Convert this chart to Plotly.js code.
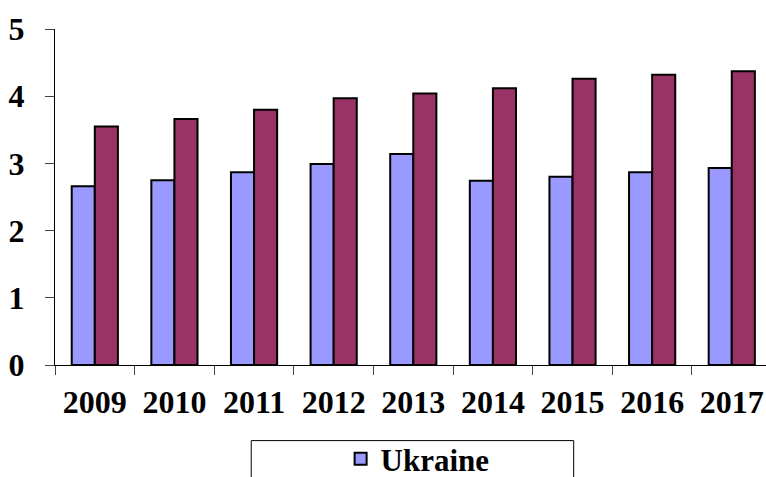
<!DOCTYPE html>
<html>
<head>
<meta charset="utf-8">
<script src="https://cdn.plot.ly/plotly-3.0.1.min.js"></script>
<style>
  html, body { margin: 0; padding: 0; background: #fff; }
  #plot { width: 766px; height: 477px; }
</style>
</head>
<body>
<div id="plot"></div>
<script>
// years on the x axis
const years = ["2009", "2010", "2011", "2012", "2013", "2014", "2015", "2016", "2017"];

// values
const ukraine = [2.66, 2.75, 2.87, 2.99, 3.14, 2.74, 2.80, 2.87, 2.93];
const second = [3.55, 3.66, 3.80, 3.97, 4.04, 4.12, 4.26, 4.32, 4.37];

const font = { family: "'Liberation Serif', 'Times New Roman', serif", size: 32, color: "#000", weight: "bold" };

let trace1 = {
  x: years,
  y: ukraine,
  name: "Ukraine",
  type: "bar",
  marker: { color: "#9999FF", line: { color: "#000", width: 2 } }
};

let trace2 = {
  x: years,
  y: second,
  name: "Series 2",
  type: "bar",
  showlegend: false,
  marker: { color: "#993366", line: { color: "#000", width: 2 } }
};

let layout = {
  width: 766,
  height: 477,
  margin: { l: 55, r: 0, t: 29, b: 112, autoexpand: false },
  paper_bgcolor: "#fff",
  plot_bgcolor: "#fff",
  font: font,
  barmode: "group",
  bargap: 0.42,
  bargroupgap: 0,
  xaxis: {
    type: "category",
    range: [-0.5, 8.43],
    automargin: false,
    showline: true,
    linecolor: "#000",
    linewidth: 1,
    ticks: "outside",
    tickson: "boundaries",
    ticklen: 9,
    tickcolor: "#444",
    ticklabelstandoff: 9,
    showgrid: false,
    zeroline: false,
    tickfont: font
  },
  yaxis: {
    range: [0, 5],
    dtick: 1,
    automargin: false,
    showline: true,
    linecolor: "#000",
    linewidth: 1,
    ticks: "outside",
    ticklen: 9,
    tickcolor: "#444",
    ticklabelstandoff: 14,
    showgrid: false,
    zeroline: false,
    tickfont: font
  },
  showlegend: true,
  legend: {
    orientation: "h",
    x: 0.51,
    xanchor: "center",
    y: -0.28,
    yanchor: "middle",
    bgcolor: "rgba(0,0,0,0)",
    borderwidth: 0,
    font: { family: font.family, size: 31, color: "#000", weight: "bold" }
  },
  shapes: [{
    type: "rect",
    xref: "paper", yref: "paper",
    x0: 0.276, x1: 0.7295, y0: -0.225, y1: -0.45,
    line: { color: "#000", width: 1 },
    fillcolor: "rgba(0,0,0,0)"
  }]
};

Plotly.newPlot("plot", [trace1, trace2], layout, { displayModeBar: false, staticPlot: true });
</script>
</body>
</html>
